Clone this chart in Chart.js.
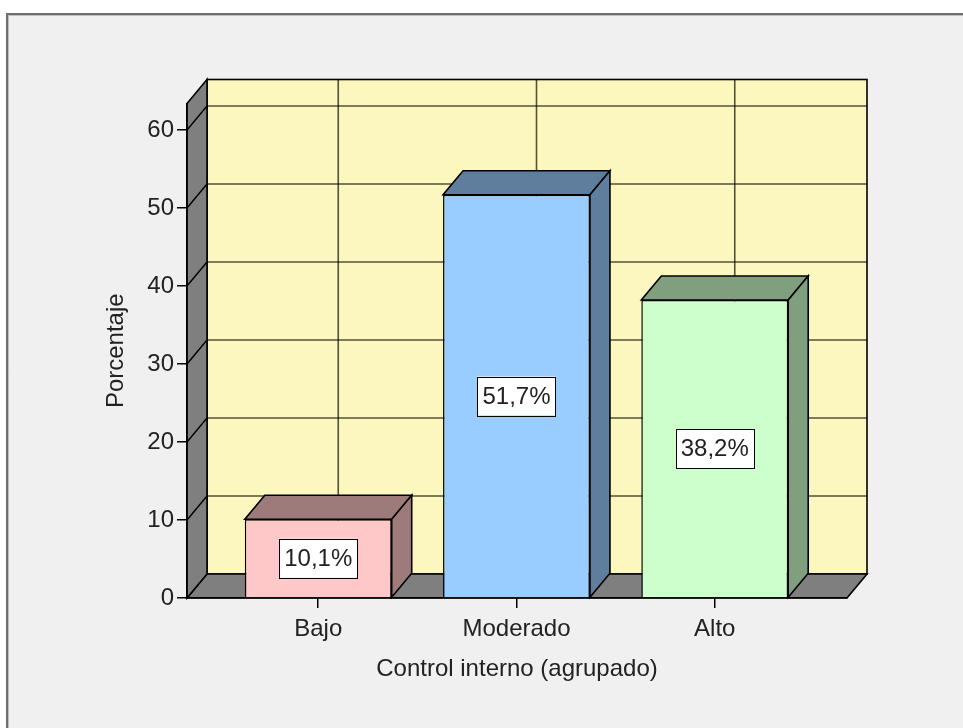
<!DOCTYPE html>
<html>
<head>
<meta charset="utf-8">
<script src="https://cdn.jsdelivr.net/npm/chart.js@4/dist/chart.umd.min.js"></script>
<style>
  html, body { margin: 0; padding: 0; background: #ffffff; }
  #wrap { width: 963px; height: 728px; }
</style>
</head>
<body>
<div id="wrap"><canvas id="c" width="963" height="728"></canvas></div>
<script>
// Data
const categories = ['Bajo', 'Moderado', 'Alto'];
const percentages = [10.1, 51.7, 38.2];
const yTicks = [0, 10, 20, 30, 40, 50, 60];

// Styling
const frontColors = ['#ffc8c8', '#99ccff', '#ccffcc'];
const shadeColors = ['#9e7b7b', '#5f7e9d', '#7f9f7f'];
const DEPTH = { dx: 20, dy: -24 };
const WALL_BACK = '#fbf7bf';
const WALL_SIDE = '#7f7f7f';
const INK = '#000000';

Chart.defaults.font.family = "'Liberation Sans', Arial, sans-serif";
Chart.defaults.font.size = 24;
Chart.defaults.color = '#222222';

function poly(ctx, pts, fill, stroke, lw) {
  ctx.beginPath();
  ctx.moveTo(pts[0][0], pts[0][1]);
  for (let i = 1; i < pts.length; i++) ctx.lineTo(pts[i][0], pts[i][1]);
  ctx.closePath();
  if (fill) { ctx.fillStyle = fill; ctx.fill(); }
  if (stroke) { ctx.strokeStyle = stroke; ctx.lineWidth = lw || 1.5; ctx.lineJoin = 'miter'; ctx.stroke(); }
}

const fmt = v => v.toFixed(1).replace('.', ',') + '%';

// Panel frame, back wall, side wall and floor of the 3D box
const box3d = {
  id: 'box3d',
  beforeDraw(chart) {
    const { ctx, chartArea: a, scales: { x, y } } = chart;
    const W = chart.width, H = chart.height;
    const { dx, dy } = DEPTH;
    ctx.save();
    ctx.fillStyle = '#ffffff';
    ctx.fillRect(0, 0, W, H);
    ctx.fillStyle = '#f0f0f0';
    ctx.fillRect(7, 14, W, H);
    ctx.strokeStyle = '#6f6f6f';
    ctx.lineWidth = 2;
    ctx.beginPath(); ctx.moveTo(7, H + 2); ctx.lineTo(7, 14); ctx.lineTo(W + 2, 14); ctx.stroke();
    ctx.strokeStyle = '#bdbdbd';
    ctx.lineWidth = 1;
    ctx.beginPath(); ctx.moveTo(8.5, H); ctx.lineTo(8.5, 15.5); ctx.lineTo(W, 15.5); ctx.stroke();

    const L = a.left, R = a.right, T = a.top, B = a.bottom;
    // back wall
    ctx.fillStyle = WALL_BACK;
    ctx.fillRect(L + dx, T + dy, R - L, B - T);
    // grid on back wall and side wall
    ctx.strokeStyle = 'rgba(20,20,0,0.72)';
    ctx.lineWidth = 1.6;
    y.ticks.forEach(t => {
      if (t.value <= 0) return;
      const py = y.getPixelForValue(t.value);
      ctx.beginPath();
      ctx.moveTo(L, py);
      ctx.lineTo(L + dx, py + dy);
      ctx.lineTo(R + dx, py + dy);
      ctx.stroke();
    });
    x.ticks.forEach(t => {
      const px = x.getPixelForValue(t.value) + dx;
      ctx.beginPath();
      ctx.moveTo(px, T + dy);
      ctx.lineTo(px, B + dy);
      ctx.stroke();
    });
    ctx.strokeStyle = INK;
    ctx.lineWidth = 1.6;
    ctx.strokeRect(L + dx, T + dy, R - L, B - T);
    // floor
    poly(ctx, [[L, B], [R, B], [R + dx, B + dy], [L + dx, B + dy]], WALL_SIDE, INK, 1.6);
    // side wall
    poly(ctx, [[L, B], [L, T], [L + dx, T + dy], [L + dx, B + dy]], WALL_SIDE, INK, 1.6);
    // side-wall grid diagonals on top of the grey
    ctx.strokeStyle = INK;
    ctx.lineWidth = 1.4;
    y.ticks.forEach(t => {
      if (t.value <= 0) return;
      const py = y.getPixelForValue(t.value);
      ctx.beginPath(); ctx.moveTo(L, py); ctx.lineTo(L + dx, py + dy); ctx.stroke();
    });
    ctx.restore();
  },
  afterDatasetsDraw(chart) {
    const { ctx } = chart;
    const { dx, dy } = DEPTH;
    const meta = chart.getDatasetMeta(0);
    ctx.save();
    meta.data.forEach((bar, i) => {
      const { x, y, base, width } = bar.getProps(['x', 'y', 'base', 'width'], true);
      const x0 = x - width / 2, x1 = x + width / 2;
      // top face
      poly(ctx, [[x0, y], [x1, y], [x1 + dx, y + dy], [x0 + dx, y + dy]], shadeColors[i], INK, 1.6);
      // right face
      poly(ctx, [[x1, y], [x1 + dx, y + dy], [x1 + dx, base + dy], [x1, base]], shadeColors[i], INK, 1.6);
      // value label box
      const text = fmt(percentages[i]);
      ctx.font = "24px 'Liberation Sans', Arial, sans-serif";
      const tw = ctx.measureText(text).width;
      const bw = tw + 10, bh = 39;
      const cy = (y + base) / 2;
      ctx.fillStyle = '#ffffff';
      ctx.fillRect(x - bw / 2, cy - bh / 2, bw, bh);
      ctx.strokeStyle = '#000000';
      ctx.lineWidth = 1;
      ctx.strokeRect(Math.round(x - bw / 2) + 0.5, Math.round(cy - bh / 2) + 0.5, Math.round(bw), Math.round(bh));
      ctx.fillStyle = '#222222';
      ctx.textAlign = 'center';
      ctx.textBaseline = 'middle';
      ctx.fillText(text, x, cy + 1);
    });
    ctx.restore();
  }
};

new Chart(document.getElementById('c'), {
  type: 'bar',
  data: {
    datasets: [{
      data: categories.map((c, i) => ({ x: i, y: percentages[i] })),
      backgroundColor: frontColors,
      borderColor: INK,
      borderWidth: 1.5,
      barPercentage: 0.741,
      categoryPercentage: 1
    }]
  },
  options: {
    responsive: false,
    animation: false,
    devicePixelRatio: 1,
    layout: { padding: { left: 0, top: 103.5, right: 116, bottom: 0 } },
    plugins: { legend: { display: false }, tooltip: { enabled: false } },
    scales: {
      x: {
        type: 'linear',
        offset: false,
        min: -0.662,
        max: 2.667,
        afterBuildTicks: s => { s.ticks = categories.map((c, i) => ({ value: i })); },
        afterFit: s => { s.height = 130; },
        ticks: { callback: v => categories[v], padding: 7, color: '#222222' },
        grid: { offset: false, drawOnChartArea: false, drawTicks: true, tickLength: 10, color: INK, lineWidth: 1.5 },
        border: { display: true, color: INK, width: 1.5 },
        title: { display: true, text: 'Control interno (agrupado)', color: '#222222', padding: { top: 0, bottom: 44 } }
      },
      y: {
        min: 0,
        max: 63.4,
        afterBuildTicks: s => { s.ticks = yTicks.map(v => ({ value: v })); },
        afterFit: s => { s.width = 187; },
        ticks: { padding: 3, color: '#222222' },
        grid: { drawOnChartArea: false, drawTicks: true, tickLength: 10, color: INK, lineWidth: 1.5 },
        border: { display: true, color: INK, width: 1.5 },
        title: { display: true, text: 'Porcentaje', color: '#222222', padding: { top: 101.5, bottom: 0 } }
      }
    }
  },
  plugins: [box3d]
});
</script>
</body>
</html>
